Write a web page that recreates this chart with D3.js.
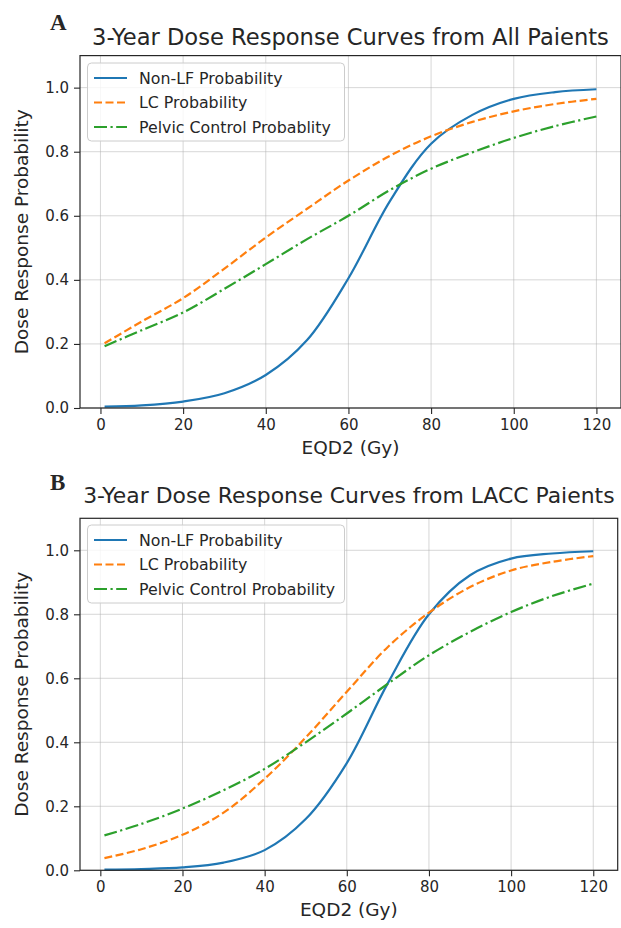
<!DOCTYPE html>
<html>
<head>
<meta charset="utf-8">
<script src="https://cdn.jsdelivr.net/npm/d3@7"></script>
<style>
  html, body { margin: 0; padding: 0; background: #fff; }
  svg { display: block; }
  text { font-family: "DejaVu Sans", sans-serif; fill: #262626; }
</style>
</head>
<body>
<svg id="chart" width="621" height="928"></svg>
<script>
// ---- data ----
const doses = [1, 10, 20, 30, 40, 50, 60, 70, 80, 90, 100, 110, 120];

const nonLF_A  = [0.004, 0.008, 0.020, 0.046, 0.103, 0.212, 0.405, 0.645, 0.825, 0.915, 0.965, 0.986, 0.995];
const lc_A     = [0.202, 0.270, 0.343, 0.435, 0.532, 0.622, 0.710, 0.787, 0.848, 0.893, 0.926, 0.949, 0.965];
const pelvic_A = [0.193, 0.243, 0.298, 0.372, 0.449, 0.527, 0.600, 0.680, 0.747, 0.798, 0.843, 0.880, 0.910];

const nonLF_B  = [0.002, 0.004, 0.009, 0.024, 0.063, 0.160, 0.335, 0.585, 0.800, 0.922, 0.974, 0.990, 0.997];
const lc_B     = [0.038, 0.066, 0.111, 0.180, 0.286, 0.415, 0.558, 0.698, 0.805, 0.885, 0.937, 0.964, 0.982];
const pelvic_B = [0.109, 0.145, 0.193, 0.250, 0.317, 0.400, 0.490, 0.583, 0.672, 0.745, 0.807, 0.857, 0.896];

const xTicks = [0, 20, 40, 60, 80, 100, 120];
const yTicks = [0.0, 0.2, 0.4, 0.6, 0.8, 1.0];

const titleA = "3-Year Dose Response Curves from All Paients";
const titleB = "3-Year Dose Response Curves from LACC Paients";
const legendA = ["Non-LF Probability", "LC Probability", "Pelvic Control Probablity"];
const legendB = ["Non-LF Probability", "LC Probability", "Pelvic Control Probability"];
const xLabel = "EQD2 (Gy)";
const yLabel = "Dose Response Probability";

// ---- styling ----
const colors = ["#1f77b4", "#ff7f0e", "#2ca02c"];
const dashes = [null, "8,3.5", "13,3.5,2.2,3.5"];

const svg = d3.select("#chart");

function panel(cfg) {
  const { letter, letterY, title, titleY, titleSize, series, labels, left, right, top, bottom, legTop } = cfg;
  const x = d3.scaleLinear().domain([-4.95, 125.95]).range([left, right]);
  const y = d3.scaleLinear().domain([0, 1.1]).range([bottom, top]);
  const g = svg.append("g");

  // grid
  g.append("g").selectAll("line").data(xTicks).join("line")
    .attr("x1", d => x(d)).attr("x2", d => x(d))
    .attr("y1", top).attr("y2", bottom)
    .attr("stroke", "#b0b0b0").attr("stroke-opacity", 0.5).attr("stroke-width", 1);
  g.append("g").selectAll("line").data(yTicks).join("line")
    .attr("x1", left).attr("x2", right)
    .attr("y1", d => y(d)).attr("y2", d => y(d))
    .attr("stroke", "#b0b0b0").attr("stroke-opacity", 0.5).attr("stroke-width", 1);

  // curves
  const line = d3.line().x(d => x(d[0])).y(d => y(d[1])).curve(d3.curveCatmullRom.alpha(0.5));
  series.forEach((vals, i) => {
    const pts = doses.map((d, k) => [d, vals[k]]);
    g.append("path").datum(pts)
      .attr("d", line)
      .attr("fill", "none")
      .attr("stroke", colors[i])
      .attr("stroke-width", 2.2)
      .attr("stroke-dasharray", dashes[i]);
  });

  // axes
  const xAxis = d3.axisBottom(x).tickValues(xTicks).tickFormat(d3.format("d")).tickSize(6).tickPadding(5);
  const yAxis = d3.axisLeft(y).tickValues(yTicks).tickFormat(d3.format(".1f")).tickSize(6).tickPadding(5);
  const gx = g.append("g").attr("transform", `translate(0,${bottom})`).call(xAxis);
  const gy = g.append("g").attr("transform", `translate(${left},0)`).call(yAxis);
  [gx, gy].forEach(a => {
    a.select(".domain").remove();
    a.selectAll(".tick line").attr("stroke", "#262626").attr("stroke-width", 1.1);
    a.selectAll(".tick text").style("font-family", "DejaVu Sans").style("font-size", "15px").attr("fill", "#262626");
  });

  // frame
  g.append("rect").attr("x", left).attr("y", top)
    .attr("width", right - left).attr("height", bottom - top)
    .attr("fill", "none").attr("stroke", "#262626").attr("stroke-width", 1.2);

  // labels
  g.append("text").attr("x", (left + right) / 2).attr("y", bottom + 46)
    .attr("text-anchor", "middle").style("font-size", "18.5px").text(xLabel);
  g.append("text")
    .attr("transform", `translate(28,${(top + bottom) / 2}) rotate(-90)`)
    .attr("text-anchor", "middle").style("font-size", "18.5px").text(yLabel);

  // title
  g.append("text").attr("x", (left + right) / 2).attr("y", titleY)
    .attr("text-anchor", "middle").style("font-size", titleSize + "px").text(title);

  // panel letter
  g.append("text").attr("x", 50).attr("y", letterY)
    .style("font-family", "Liberation Serif, serif").style("font-weight", "bold")
    .style("font-size", "23px").attr("fill", "#000").text(letter);

  // legend
  const lg = g.append("g");
  lg.append("rect").attr("x", left + 7.5).attr("y", legTop)
    .attr("width", 257).attr("height", 78).attr("rx", 4)
    .attr("fill", "#fff").attr("fill-opacity", 0.8)
    .attr("stroke", "#cccccc").attr("stroke-width", 1);
  labels.forEach((lab, i) => {
    const cy = legTop + 15 + i * 24.5;
    lg.append("line").attr("x1", left + 14).attr("x2", left + 47)
      .attr("y1", cy).attr("y2", cy)
      .attr("stroke", colors[i]).attr("stroke-width", 2.2)
      .attr("stroke-dasharray", dashes[i]);
    lg.append("text").attr("x", left + 59).attr("y", cy + 5.5)
      .style("font-size", "15.8px").text(lab);
  });
}

panel({
  letter: "A", letterY: 30, title: titleA, titleY: 45, titleSize: 22.6,
  series: [nonLF_A, lc_A, pelvic_A], labels: legendA,
  left: 80, right: 621, top: 55.6, bottom: 408, legTop: 63
});
panel({
  letter: "B", letterY: 490, title: titleB, titleY: 502.5, titleSize: 21.9,
  series: [nonLF_B, lc_B, pelvic_B], labels: legendB,
  left: 80, right: 617.7, top: 518.3, bottom: 870.3, legTop: 525
});
</script>
</body>
</html>
